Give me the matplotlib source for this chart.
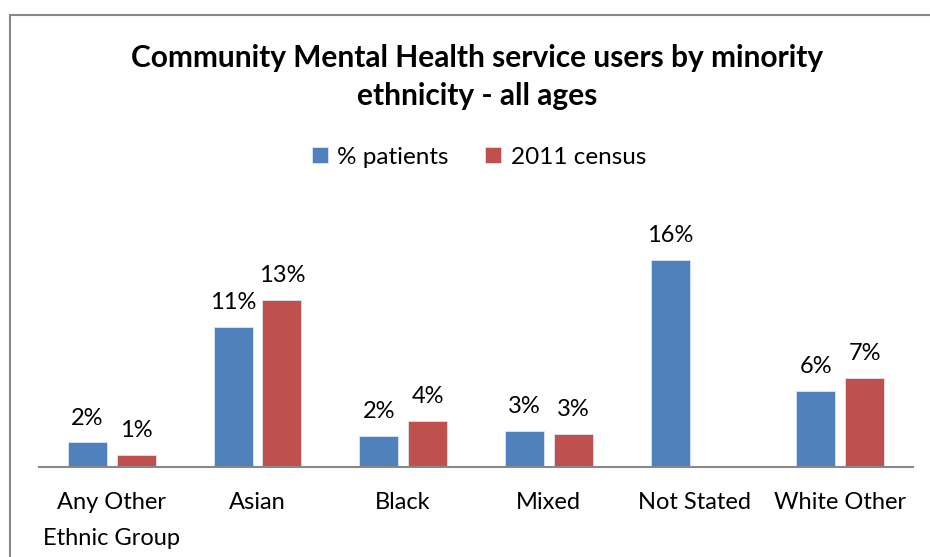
import matplotlib.pyplot as plt
from matplotlib.patches import Rectangle
import numpy as np

plt.rcParams['font.family'] = ['Lato', 'DejaVu Sans']

categories = ['Any Other\nEthnic Group', 'Asian', 'Black', 'Mixed', 'Not Stated', 'White Other']
patients = [1.9, 10.8, 2.4, 2.8, 16.0, 5.9]
census = [0.93, 12.9, 3.55, 2.55, None, 6.9]
series_names = ['% patients', '2011 census']
colors = ['#4F81BD', '#C0504D']

fig = plt.figure(figsize=(9.3, 5.57), dpi=100)
ax = fig.add_axes([39 / 930, 90 / 557, 874 / 930, 233 / 557])

x = np.arange(len(categories))
w = 0.268
off = 0.168

for vals, sign, col, name in [(patients, -1, colors[0], series_names[0]),
                              (census, 1, colors[1], series_names[1])]:
    xs = [xi + sign * off for xi, v in zip(x, vals) if v is not None]
    hs = [v for v in vals if v is not None]
    bars = ax.bar(xs, hs, width=w, color=col, edgecolor='#dce6f2', linewidth=0.6, label=name)
    for b, v in zip(bars, hs):
        ax.annotate(f"{v:.0f}%", (b.get_x() + b.get_width() / 2, v),
                    xytext=(0, 10), textcoords='offset points',
                    ha='center', va='bottom', fontsize=17)

ax.set_xlim(-0.5, len(categories) - 0.5)
ax.set_ylim(0, 18)
ax.set_yticks([])
ax.set_xticks(x)
ax.set_xticklabels(categories, fontsize=17, linespacing=1.9)
ax.tick_params(axis='x', length=0, pad=18)
for s in ['top', 'right', 'left']:
    ax.spines[s].set_visible(False)
ax.spines['bottom'].set_color('#888888')
ax.spines['bottom'].set_linewidth(1.5)

fig.text(477 / 930, 1 - 77 / 557, 'Community Mental Health service users by minority\nethnicity - all ages',
         ha='center', va='center', fontsize=21.5, fontweight='bold', linespacing=1.45)

fig.legend(loc='center', bbox_to_anchor=(479 / 930, 1 - 157 / 557), ncol=2, frameon=False,
           fontsize=17.5, handlelength=0.65, handleheight=0.65, handletextpad=0.4, columnspacing=1.5)

fig.patches.append(Rectangle((10 / 930, -0.1), 1.2, 1.1 - 15 / 557, transform=fig.transFigure,
                             fill=False, edgecolor='#888888', linewidth=1.5))

fig.savefig('out.png', dpi=100)
